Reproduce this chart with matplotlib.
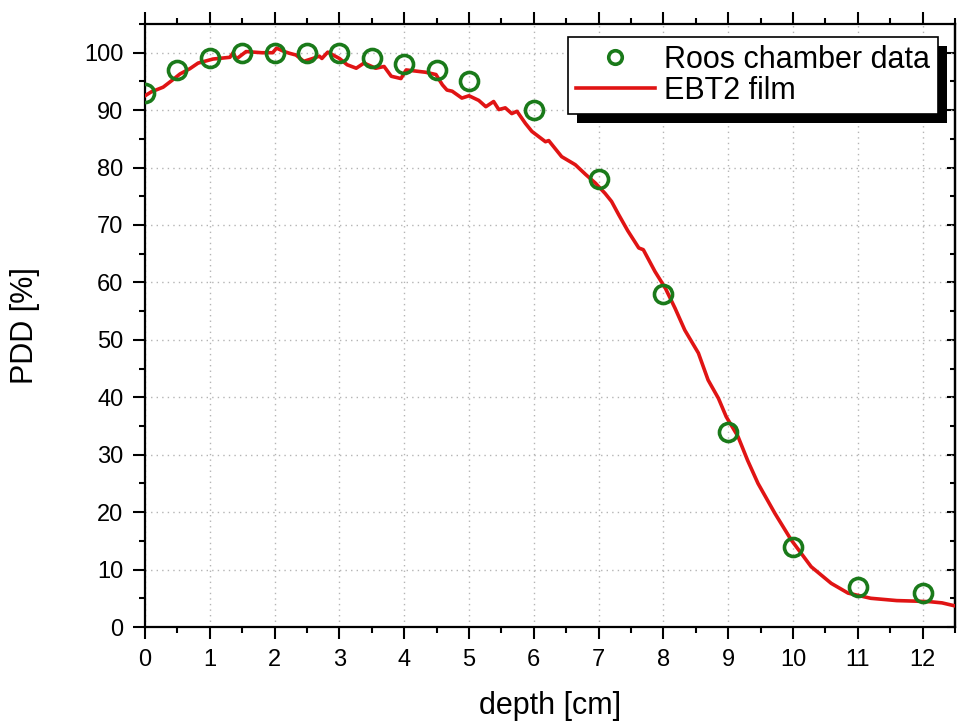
import matplotlib
matplotlib.use("Agg")
import matplotlib.pyplot as plt
from matplotlib.ticker import MultipleLocator, NullFormatter
from matplotlib.patches import Rectangle
from matplotlib.transforms import IdentityTransform

plt.rcParams['font.family'] = ['Liberation Sans', 'DejaVu Sans']

# Roos chamber measurements
depth_roos = [0, 0.5, 1, 1.5, 2, 2.5, 3, 3.5, 4, 4.5, 5, 6, 7, 8, 9, 10, 11, 12]
pdd_roos = [93, 97, 99, 100, 100, 100, 100, 99, 98, 97, 95, 90, 78, 58, 34, 14, 7, 6]

# EBT2 film depth-dose profile
depth_film = [0.0, 0.1, 0.28, 0.43, 0.54, 0.69, 0.82, 1.05, 1.31, 1.36, 1.41, 1.56,
              1.8, 1.97, 2.03, 2.15, 2.23, 2.33, 2.45, 2.59, 2.69, 2.73, 2.82, 3.0,
              3.12, 3.26, 3.38, 3.56, 3.69, 3.8, 3.95, 4.03, 4.33, 4.49, 4.59, 4.66,
              4.74, 4.89, 5.0, 5.15, 5.26, 5.38, 5.46, 5.56, 5.66, 5.74, 5.87, 5.97,
              6.18, 6.23, 6.43, 6.64, 6.8, 6.95, 7.1, 7.2, 7.31, 7.45, 7.62, 7.69,
              7.87, 8.03, 8.18, 8.33, 8.54, 8.69, 8.85, 8.97, 9.15, 9.3, 9.46, 9.72,
              9.97, 10.28, 10.59, 10.85, 11.2, 11.6, 11.9, 12.12, 12.3, 12.49]
pdd_film = [92.5, 93.2, 94.0, 95.3, 96.3, 97.2, 98.2, 98.9, 99.2, 100.0, 98.9, 100.2,
            100.0, 100.0, 100.8, 100.2, 99.9, 99.6, 98.5, 99.0, 99.4, 99.0, 100.1, 99.0,
            97.9, 97.3, 98.2, 97.3, 97.6, 95.9, 95.5, 97.0, 96.6, 96.2, 94.4, 93.5,
            93.3, 92.1, 92.5, 91.7, 90.6, 91.5, 90.1, 90.4, 89.4, 89.8, 87.7, 86.3,
            84.5, 84.7, 81.9, 80.5, 78.8, 77.3, 75.5, 74.1, 71.8, 69.0, 66.0, 65.7,
            61.9, 59.0, 55.5, 51.7, 47.7, 43.0, 39.8, 36.6, 33.2, 29.0, 25.0, 19.8,
            15.2, 10.5, 7.6, 5.9, 5.0, 4.6, 4.5, 4.4, 4.2, 3.7]

fig = plt.figure(figsize=(9.57, 7.24), dpi=100)
ax = fig.add_axes([145 / 957, 97 / 724, 810 / 957, 603 / 724])

red = '#e01414'
green = '#1a7a1a'

ax.plot(depth_film, pdd_film, color=red, lw=2.6, label='EBT2 film', zorder=3)
ax.plot(depth_roos, pdd_roos, ls='none', marker='o', ms=13, mfc='none',
        mec=green, mew=2.6, label='Roos chamber data', zorder=4)

ax.set_xlim(0, 12.5)
ax.set_ylim(0, 105)
ax.xaxis.set_major_locator(MultipleLocator(1))
ax.xaxis.set_minor_locator(MultipleLocator(0.5))
ax.yaxis.set_major_locator(MultipleLocator(10))
ax.yaxis.set_minor_locator(MultipleLocator(5))

ax.grid(True, which='major', color='#b4b4b4', linestyle=(0, (1, 3)), lw=1.0)

for s in ax.spines.values():
    s.set_linewidth(1.6)

ax.tick_params(which='both', width=1.5, labelsize=17, color='black')
ax.tick_params(which='major', length=8.5)
ax.tick_params(which='minor', length=4.3)
ax.tick_params(axis='x', which='both', bottom=True, top=True, direction='out')
ax.tick_params(axis='y', which='both', left=True, right=False, direction='out')
ax.tick_params(axis='x', which='major', pad=7)
ax.tick_params(axis='y', which='major', pad=7)

# inward ticks on the right-hand frame
right = ax.secondary_yaxis('right')
right.yaxis.set_major_locator(MultipleLocator(10))
right.yaxis.set_minor_locator(MultipleLocator(5))
right.yaxis.set_major_formatter(NullFormatter())
right.tick_params(which='both', direction='in', width=1.5, color='black')
right.tick_params(which='major', length=6)
right.tick_params(which='minor', length=3.5)
right.spines['right'].set_linewidth(1.6)

ax.set_xlabel('depth [cm]', fontsize=22)
ax.set_ylabel('PDD [%]', fontsize=22)
ax.xaxis.set_label_coords(0.5, (627 - 691) / 603)
ax.yaxis.set_label_coords((40 - 145) / 810, 0.5)

handles, labels = ax.get_legend_handles_labels()
leg = ax.legend(handles[::-1], labels[::-1], loc='upper right',
                bbox_to_anchor=(938 / 957, 1 - 37 / 724), bbox_transform=fig.transFigure,
                fontsize=22, frameon=True, fancybox=False, edgecolor='black',
                framealpha=1, handlelength=2.6, handletextpad=0.3,
                borderpad=0.25, labelspacing=0.05, markerscale=0.75,
                borderaxespad=0)
leg.get_frame().set_linewidth(1.2)

fig.canvas.draw()
bb = leg.get_window_extent()
shadow = Rectangle((bb.x0 + 9, bb.y0 - 9), bb.width, bb.height,
                   transform=IdentityTransform(), facecolor='black',
                   edgecolor='none', zorder=4.9, clip_on=False)
ax.add_artist(shadow)
leg.set_zorder(5)

fig.savefig('out.png', dpi=100)
